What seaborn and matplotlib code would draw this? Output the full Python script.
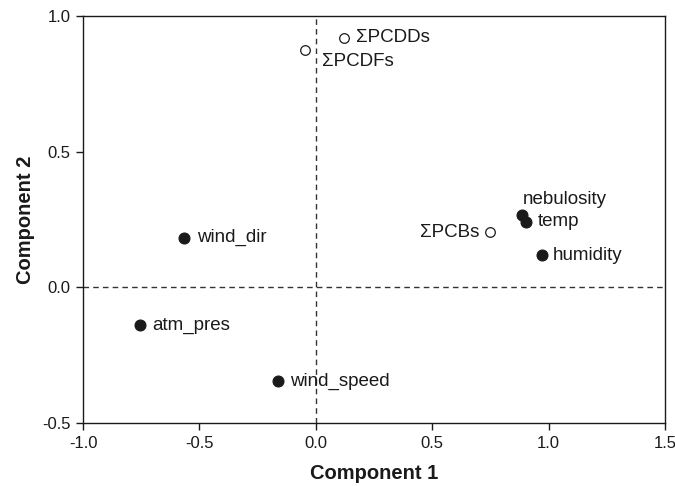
import matplotlib
matplotlib.use("Agg")
import matplotlib.pyplot as plt
import seaborn as sns
import pandas as pd

names = ["ΣPCDDs", "ΣPCDFs", "ΣPCBs", "nebulosity", "temp", "humidity",
         "wind_dir", "atm_pres", "wind_speed"]
comp1 = [0.12, -0.047, 0.75, 0.885, 0.902, 0.97, -0.567, -0.755, -0.161]
comp2 = [0.92, 0.874, 0.203, 0.267, 0.242, 0.119, 0.183, -0.139, -0.347]
kind = ["open", "open", "open", "filled", "filled", "filled", "filled", "filled", "filled"]

df = pd.DataFrame({"name": names, "c1": comp1, "c2": comp2, "kind": kind})

sns.set_theme(style="ticks")
plt.rcParams["font.family"] = ["Liberation Sans", "DejaVu Sans"]

fig = plt.figure(figsize=(6.75, 4.86), dpi=100)
ax = fig.add_axes([83/675, 1-423/486, (665-83)/675, (423-16)/486])

ax.axhline(0, color="#333333", ls=(0, (4, 3)), lw=1, zorder=1)
ax.axvline(0, color="#333333", ls=(0, (4, 3)), lw=1, zorder=1)

df_open = df[df["kind"] == "open"]
df_fill = df[df["kind"] == "filled"]
sns.scatterplot(data=df_fill, x="c1", y="c2", color="#1a1a1a",
                edgecolor="#1a1a1a", linewidth=0.8, s=62, legend=False, ax=ax, zorder=3)
sns.scatterplot(data=df_open, x="c1", y="c2", color="white",
                edgecolor="#1a1a1a", linewidth=0.9, s=48, legend=False, ax=ax, zorder=3)

offsets = {
    "ΣPCDDs": (8.5, 0, "left", "center"),
    "ΣPCDFs": (12, -8.3, "left", "center"),
    "ΣPCBs": (-7.7, 0, "right", "center"),
    "nebulosity": (1, 11, "left", "center"),
    "temp": (8.6, 0, "left", "center"),
    "humidity": (8.2, 0, "left", "center"),
    "wind_dir": (9.3, 0, "left", "center"),
    "atm_pres": (8.6, 0, "left", "center"),
    "wind_speed": (8.6, 0, "left", "center"),
}
for n, x, y in zip(names, comp1, comp2):
    dx, dy, ha, va = offsets[n]
    ax.annotate(n, (x, y), xytext=(dx, dy), textcoords="offset points",
                ha=ha, va=va, fontsize=13.5, color="#1a1a1a")

ax.set_xlim(-1.0, 1.5)
ax.set_ylim(-0.5, 1.0)
ax.set_xticks([-1.0, -0.5, 0.0, 0.5, 1.0, 1.5])
ax.set_yticks([-0.5, 0.0, 0.5, 1.0])
ax.set_xticklabels(["-1.0", "-0.5", "0.0", "0.5", "1.0", "1.5"])
ax.set_yticklabels(["-0.5", "0.0", "0.5", "1.0"])
ax.tick_params(direction="out", length=5, width=1, labelsize=12, colors="#1a1a1a", pad=4)
ax.tick_params(top=False, right=False)
for sp in ax.spines.values():
    sp.set_visible(True)
    sp.set_color("#1a1a1a")
    sp.set_linewidth(1)

ax.set_xlabel("Component 1", fontsize=14.5, fontweight="bold", labelpad=10, color="#1a1a1a")
ax.set_ylabel("Component 2", fontsize=14.5, fontweight="bold", labelpad=5, color="#1a1a1a")

fig.savefig("out.png", dpi=100)
